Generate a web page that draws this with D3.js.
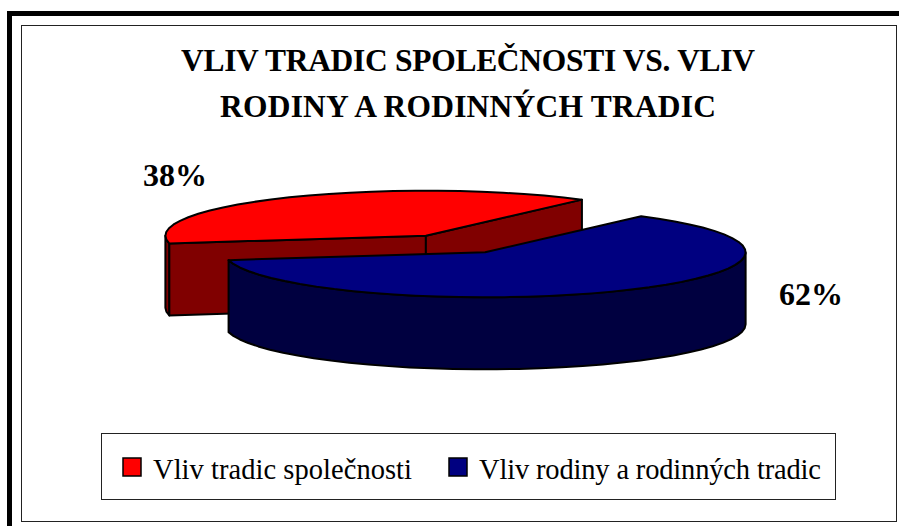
<!DOCTYPE html>
<html>
<head>
<meta charset="utf-8">
<title>Vliv tradic</title>
<style>
  html, body { margin: 0; padding: 0; background: #fff; }
  svg { display: block; }
  text { font-family: 'Liberation Serif', 'Times New Roman', serif; fill: #000; }
  .title { font-size: 31.5px; font-weight: bold; text-anchor: middle; }
  .pct { font-size: 32px; font-weight: bold; }
  .leg { font-size: 28.5px; }
</style>
</head>
<body>
<script src="https://d3js.org/d3.v7.min.js"></script>
<script>

var categories = ['Vliv tradic společnosti', 'Vliv rodiny a rodinných tradic'];
var values = [38, 62];
var labels = ['38%', '62%'];
var titleLines = ['VLIV TRADIC SPOLEČNOSTI VS. VLIV', 'RODINY A RODINNÝCH TRADIC'];
var topColors = ['#ff0000', '#000080'];
var wallColors = ['#800000', '#000040'];

var width = 899;
var height = 526;

var svg = d3.select('body').append('svg')
  .attr('width', width)
  .attr('height', height);

// frames
svg.append('rect').attr('x', 7).attr('y', 11).attr('width', 5).attr('height', height - 11).attr('fill', '#000');
svg.append('rect').attr('x', 7).attr('y', 11).attr('width', width - 7).attr('height', 5).attr('fill', '#000');
svg.append('rect').attr('x', 21.5).attr('y', 25.5).attr('width', 875).attr('height', 496)
  .attr('fill', '#fff').attr('stroke', '#222').attr('stroke-width', 1);

var titleWidths = [574, 496];
svg.selectAll('text.title')
  .data(titleLines)
  .enter().append('text')
  .attr('class', 'title')
  .attr('x', 468)
  .attr('y', function (d, i) { return 71 + i * 46; })
  .attr('textLength', function (d, i) { return titleWidths[i]; })
  .text(function (d) { return d; });

// the pie is laid out flat on a unit circle, then squashed by the scales
var x = d3.scaleLinear().domain([-1, 1]).range([195, 716]);
var y = d3.scaleLinear().domain([-1, 1]).range([199, 289]);
var depth = 72;
var explode = 0.217;

var deg = Math.PI / 180;
var arcs = d3.pie().sort(null).startAngle(260 * deg).endAngle(620 * deg)(values);

function project (a, r, arc) {
  var mid = (arc.startAngle + arc.endAngle) / 2;
  var ux = explode * Math.sin(mid) + r * Math.sin(a);
  var uy = -explode * Math.cos(mid) - r * Math.cos(a);
  return [x(ux), y(uy)];
}

// points on the rim, in coarse steps like the original
function rim (arc, from, to) {
  var pts = [];
  var n = Math.max(1, Math.ceil(Math.abs(to - from) / (5 * deg)));
  for (var i = 0; i <= n; i++) {
    pts.push(project(from + (to - from) * i / n, 1, arc));
  }
  return pts;
}

function drop (pts) {
  return pts.map(function (p) { return [p[0], p[1] + depth]; });
}

function closedPath (pts) {
  return d3.line()(pts) + 'Z';
}

function wall (pts) {
  return closedPath(pts.concat(drop(pts).reverse()));
}

var g = svg.append('g')
  .attr('stroke', '#000')
  .attr('stroke-width', 2)
  .attr('stroke-linejoin', 'round');

var red = arcs[0];
var blue = arcs[1];
var redCentre = project(0, 0, red);
var redA = project(red.startAngle, 1, red);
var redB = project(red.endAngle, 1, red);

// red slice: outer wall, both cut faces, top
g.append('path').attr('d', wall(rim(red, red.startAngle, 270 * deg))).attr('fill', wallColors[0]);
g.append('path').attr('d', wall([redCentre, redA])).attr('fill', wallColors[0]);
g.append('path').attr('d', wall([redCentre, redB])).attr('fill', wallColors[0]);
g.append('path').attr('d', closedPath([redCentre].concat(rim(red, red.startAngle, red.endAngle)))).attr('fill', topColors[0]);

// blue slice: front wall from the rightmost point round to its end, then top
g.append('path').attr('d', wall(rim(blue, 450 * deg, blue.endAngle))).attr('fill', wallColors[1]);
g.append('path').attr('d', closedPath([project(0, 0, blue)].concat(rim(blue, blue.startAngle, blue.endAngle)))).attr('fill', topColors[1]);

// percentage labels
var labelPos = [[143, 186], [779, 305]];
svg.selectAll('text.pct')
  .data(labels)
  .enter().append('text')
  .attr('class', 'pct')
  .attr('x', function (d, i) { return labelPos[i][0]; })
  .attr('y', function (d, i) { return labelPos[i][1]; })
  .text(function (d) { return d; });

// legend
svg.append('rect').attr('x', 101.5).attr('y', 433.5).attr('width', 734).attr('height', 66)
  .attr('fill', '#fff').attr('stroke', '#222').attr('stroke-width', 1);

var swatchX = [123, 449];
var legendWidths = [259, 342];
var legend = svg.selectAll('g.leg')
  .data(categories)
  .enter().append('g')
  .attr('class', 'leg')
  .attr('transform', function (d, i) { return 'translate(' + swatchX[i] + ',0)'; });

legend.append('rect')
  .attr('y', 458)
  .attr('width', 18)
  .attr('height', 18)
  .attr('fill', function (d, i) { return topColors[i]; })
  .attr('stroke', '#000')
  .attr('stroke-width', 1.5);

legend.append('text')
  .attr('x', 30)
  .attr('y', 479)
  .attr('textLength', function (d, i) { return legendWidths[i]; })
  .text(function (d) { return d; });

</script>
</body>
</html>
